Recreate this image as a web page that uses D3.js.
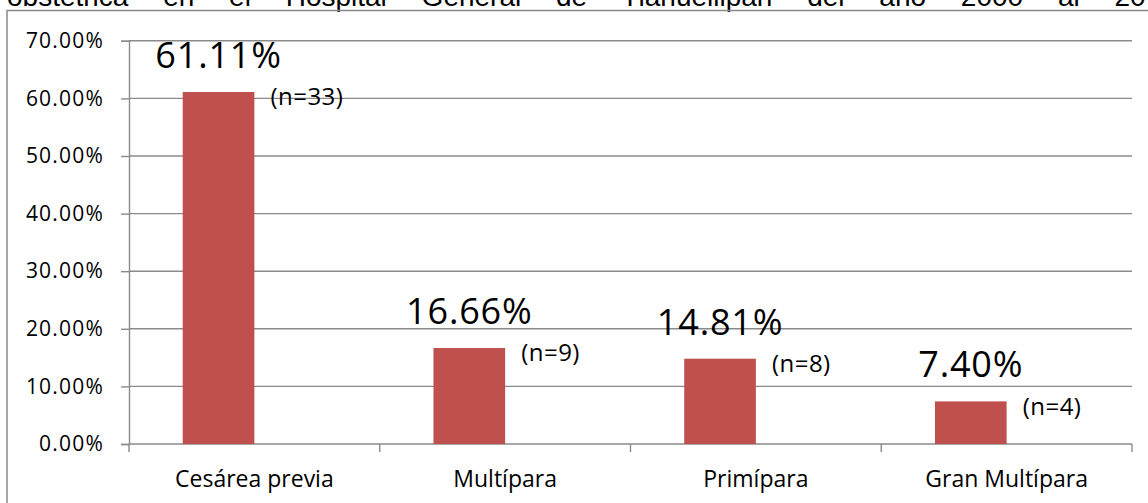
<!DOCTYPE html>
<html>
<head>
<meta charset="utf-8">
<script src="https://cdn.jsdelivr.net/npm/d3@7"></script>
<style>
  body { margin: 0; background: #fff; }
  svg { display: block; }
  .tick-label { font-family: "Open Sans", sans-serif; font-size: 21px; fill: #000; letter-spacing: 1.2px; }
  .cat-label { font-family: "Open Sans", sans-serif; font-size: 23px; fill: #000; }
  .pct-label { font-family: "Open Sans", sans-serif; font-size: 36px; fill: #000; letter-spacing: 0.8px; }
  .n-label { font-family: "Open Sans", sans-serif; font-size: 24px; fill: #000; letter-spacing: 0.5px; }
</style>
</head>
<body>
<div id="chart"></div>
<script>
// data
const categories = ['Cesárea previa', 'Multípara', 'Primípara', 'Gran Multípara'];
const percents = [0.6111, 0.1666, 0.1481, 0.0740];
const pctLabels = ['61.11%', '16.66%', '14.81%', '7.40%'];
const counts = [33, 9, 8, 4];
const yTicks = [0, 0.1, 0.2, 0.3, 0.4, 0.5, 0.6, 0.7];
const headerText = 'obstétrica en el Hospital General de Tlahuelilpan del año 2000 al 20';

const width = 1148, height = 503;
const margin = { top: 40.8, right: 16, bottom: 59, left: 129 };
const innerW = width - margin.left - margin.right;
const innerH = height - margin.top - margin.bottom;

const svg = d3.select('#chart').append('svg')
    .attr('width', width)
    .attr('height', height);

svg.append('rect').attr('width', width).attr('height', height).attr('fill', '#fff');

// cut-off line of document text above the chart
svg.append('text')
    .attr('x', 7)
    .attr('y', 6)
    .style('font-family', '"Liberation Sans", Arial, sans-serif')
    .style('font-size', '28px')
    .style('word-spacing', '27px')
    .text(headerText);

// chart frame
svg.append('rect')
    .attr('x', 7).attr('y', 10.5)
    .attr('width', width + 20).attr('height', height)
    .attr('fill', 'none')
    .attr('stroke', '#8a8a8a')
    .attr('stroke-width', 1.5);

const g = svg.append('g')
    .attr('transform', `translate(${margin.left},${margin.top})`);

const x = d3.scaleBand().domain(categories).range([0, innerW]).padding(0);
const y = d3.scaleLinear().domain([0, 0.7]).range([innerH, 0]);

// clustered layout: two series slots per category, gap 150%
const barW = x.bandwidth() / 3.5;

// gridlines
g.selectAll('.grid')
    .data(yTicks.slice(1))
    .join('line')
    .attr('x1', 0).attr('x2', innerW)
    .attr('y1', d => y(d)).attr('y2', d => y(d))
    .attr('stroke', '#8a8a8a')
    .attr('stroke-width', 1.4);

// y axis
const yAxis = d3.axisLeft(y).tickValues(yTicks).tickSize(8).tickPadding(17).tickFormat(d3.format('.2%'));
const yAxisG = g.append('g').call(yAxis);
yAxisG.select('.domain').attr('stroke', '#8a8a8a').attr('stroke-width', 1.4);
yAxisG.selectAll('.tick line').attr('stroke', '#8a8a8a').attr('stroke-width', 1.4);
yAxisG.selectAll('.tick text').attr('class', 'tick-label').attr('font-family', null).attr('font-size', null);

// x axis: ticks at category boundaries
const xAxisG = g.append('g').attr('transform', `translate(0,${innerH})`);
xAxisG.append('line')
    .attr('x1', 0).attr('x2', innerW)
    .attr('stroke', '#8a8a8a').attr('stroke-width', 1.4);
const bounds = categories.map(c => x(c)).concat([innerW]);
xAxisG.selectAll('.xtick')
    .data(bounds)
    .join('line')
    .attr('x1', d => d).attr('x2', d => d)
    .attr('y1', 0).attr('y2', 8)
    .attr('stroke', '#8a8a8a').attr('stroke-width', 1.4);
xAxisG.selectAll('.cat-label')
    .data(categories)
    .join('text')
    .attr('class', 'cat-label')
    .attr('x', d => x(d) + x.bandwidth() / 2)
    .attr('y', 43)
    .attr('text-anchor', 'middle')
    .text(d => d);

// bars
const barX = (c) => x(c) + (x.bandwidth() - 2 * barW) / 2;
g.selectAll('.bar')
    .data(categories)
    .join('rect')
    .attr('class', 'bar')
    .attr('x', d => barX(d))
    .attr('width', barW)
    .attr('y', (d, i) => y(percents[i]))
    .attr('height', (d, i) => innerH - y(percents[i]))
    .attr('fill', '#C0504D');

// percentage labels
g.selectAll('.pct-label')
    .data(categories)
    .join('text')
    .attr('class', 'pct-label')
    .attr('x', d => barX(d) + barW / 2)
    .attr('y', (d, i) => y(percents[i]) - 24)
    .attr('text-anchor', 'middle')
    .text((d, i) => pctLabels[i]);

// n labels
g.selectAll('.n-label')
    .data(categories)
    .join('text')
    .attr('class', 'n-label')
    .attr('x', d => barX(d) + barW + 16)
    .attr('y', (d, i) => y(percents[i]) + 5)
    .attr('dy', '0.35em')
    .text((d, i) => `(n=${counts[i]})`);
</script>
</body>
</html>
